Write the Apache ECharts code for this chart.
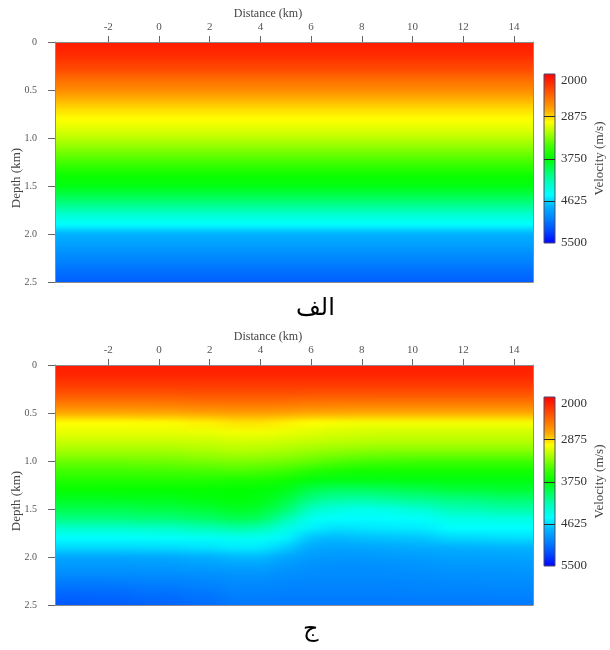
<!DOCTYPE html>
<html>
<head>
<meta charset="utf-8">
<title>Velocity models</title>
<script src="https://cdn.jsdelivr.net/npm/echarts@6/dist/echarts.min.js"></script>
<style>
  html, body { margin: 0; background: #fff; }
  #wrap { position: relative; width: 610px; height: 650px; }
  .field { position: absolute; overflow: hidden; }
  .smooth { position: absolute; filter: url(#hblur); }
  #chart { position: absolute; left: 0; top: 0; width: 610px; height: 650px; }
</style>
</head>
<body>
<div id="wrap">
  <div class="field" id="field0"><div class="smooth" id="fieldChart0"></div></div>
  <div class="field" id="field1"><div class="smooth" id="fieldChart1"></div></div>
  <div id="chart"></div>
</div>
<!-- sideways smoothing of the gridded model, like the plotting package's interpolation -->
<svg width="0" height="0" style="position:absolute">
  <filter id="hblur" x="-10%" y="-10%" width="120%" height="120%" color-interpolation-filters="sRGB">
    <feGaussianBlur stdDeviation="10 1.5"/>
  </filter>
</svg>
<script>
// ---- data ----
const xTicks = [-2, 0, 2, 4, 6, 8, 10, 12, 14];
const velTicks = [2000, 2875, 3750, 4625, 5500];
const captions = ['الف', 'ج'];

// depth samples (km) shared by every velocity profile
const depths = [0, 0.1, 0.2, 0.3, 0.4, 0.5, 0.6, 0.7, 0.8, 0.9, 1.0, 1.1, 1.2,
  1.3, 1.4, 1.5, 1.6, 1.7, 1.8, 1.9, 2.0, 2.1, 2.2, 2.3, 2.4, 2.5];

// panel "الف": laterally uniform model, one profile (m/s)
const velA = [2130, 2160, 2250, 2350, 2500, 2620, 2780, 2900, 3000, 3080, 3180,
  3300, 3430, 3570, 3720, 3790, 3950, 4120, 4320, 4500, 4750, 4830, 4920, 5000, 5080, 5150];

// panel "ج": one profile per column, columns centred at colX (km)
const colX = [-4, -2, 0, 2, 3, 4, 5, 6, 7, 8, 9, 10, 12, 14];
const velB = [
  [2130, 2160, 2250, 2370, 2540, 2750, 3000, 3060, 3150, 3250, 3380, 3500, 3620, 3730, 3830, 3950, 4080, 4300, 4500, 4620, 4800, 4880, 4960, 5050, 5130, 5180],
  [2130, 2160, 2250, 2370, 2540, 2750, 3000, 3060, 3150, 3250, 3380, 3500, 3620, 3730, 3830, 3950, 4080, 4300, 4500, 4620, 4800, 4880, 4960, 5040, 5110, 5160],
  [2130, 2160, 2250, 2370, 2540, 2740, 2990, 3060, 3150, 3250, 3370, 3490, 3620, 3740, 3820, 3930, 4060, 4280, 4490, 4610, 4790, 4870, 4950, 5020, 5080, 5130],
  [2130, 2160, 2250, 2360, 2520, 2720, 2960, 3050, 3140, 3230, 3350, 3480, 3630, 3740, 3790, 3890, 4020, 4230, 4470, 4590, 4760, 4850, 4930, 4990, 5050, 5090],
  [2130, 2160, 2250, 2360, 2510, 2700, 2920, 3030, 3120, 3200, 3330, 3460, 3650, 3750, 3760, 3830, 3950, 4180, 4450, 4560, 4720, 4830, 4910, 4960, 5000, 5040],
  [2130, 2160, 2250, 2360, 2510, 2700, 2920, 3030, 3120, 3210, 3340, 3480, 3660, 3760, 3790, 3870, 3990, 4210, 4460, 4560, 4720, 4830, 4910, 4960, 5000, 5040],
  [2130, 2160, 2250, 2360, 2520, 2720, 2960, 3050, 3140, 3240, 3360, 3510, 3690, 3800, 3900, 4020, 4200, 4400, 4520, 4660, 4800, 4880, 4930, 4970, 5010, 5040],
  [2130, 2160, 2250, 2370, 2540, 2740, 3000, 3080, 3160, 3270, 3400, 3600, 3780, 3950, 4100, 4270, 4450, 4540, 4700, 4790, 4860, 4910, 4950, 4980, 5010, 5040],
  [2130, 2160, 2250, 2370, 2540, 2750, 3010, 3100, 3180, 3300, 3450, 3650, 3800, 4000, 4170, 4380, 4500, 4600, 4720, 4810, 4880, 4920, 4950, 4980, 5010, 5040],
  [2130, 2160, 2250, 2370, 2550, 2750, 3020, 3110, 3190, 3320, 3480, 3680, 3800, 4000, 4180, 4420, 4510, 4580, 4700, 4800, 4880, 4920, 4950, 4980, 5010, 5040],
  [2130, 2160, 2250, 2370, 2550, 2750, 3020, 3120, 3200, 3330, 3490, 3680, 3800, 3980, 4160, 4400, 4500, 4570, 4690, 4790, 4870, 4910, 4950, 4980, 5010, 5040],
  [2130, 2160, 2250, 2370, 2550, 2750, 3020, 3120, 3200, 3330, 3500, 3680, 3790, 3950, 4120, 4330, 4490, 4560, 4680, 4770, 4850, 4900, 4940, 4970, 5000, 5040],
  [2130, 2160, 2250, 2370, 2550, 2750, 3020, 3120, 3200, 3330, 3500, 3680, 3790, 3900, 4080, 4220, 4400, 4500, 4620, 4750, 4830, 4880, 4920, 4960, 5000, 5040],
  [2130, 2160, 2250, 2370, 2550, 2750, 3020, 3120, 3200, 3330, 3500, 3680, 3790, 3880, 4040, 4180, 4380, 4500, 4600, 4740, 4820, 4870, 4910, 4950, 4990, 5030]
];

// ---- layout & style ----
const V_MIN = 2000, V_MAX = 5500;
const X_MIN = -4.1, X_MAX = 14.75, Z_MAX = 2.5;
const CMAP = ['#ff0000', '#ff3800', '#ff7000', '#ffa800', '#ffff00', '#a0ff00', '#40ff00',
  '#00ff00', '#00ff60', '#00ffc0', '#00ffff', '#00b0ff', '#0080ff', '#0048ff', '#0000ff'];
const SERIF = 'Liberation Serif';
const AXIS_GREY = '#8c8c8c';
const PLOT_LEFT = 55, PLOT_W = 478, PLOT_H = 240;
const PANEL_TOP = [42, 365];
const PAD_X = 40, PAD_Y = 4;   // field drawn a bit past the frame, then clipped

function velColor(v) {
  return echarts.color.lerp((v - V_MIN) / (V_MAX - V_MIN), CMAP);
}

// column extents: half way to the neighbouring column
function columnItems(xs, lo, hi) {
  if (!xs) return [[lo, hi, 0]];
  return xs.map((x, i) => [
    i === 0 ? lo : (xs[i - 1] + x) / 2,
    i === xs.length - 1 ? hi : (x + xs[i + 1]) / 2,
    i
  ]);
}

function fieldRenderer(profiles, zLo, zHi) {
  return function (params, api) {
    const p0 = api.coord([api.value(0), zLo]);
    const p1 = api.coord([api.value(1), zHi]);
    const h = p1[1] - p0[1];
    const stops = profiles[api.value(2)].map((v, i) => ({
      offset: (api.coord([0, depths[i]])[1] - p0[1]) / h,
      color: velColor(v)
    }));
    const x = Math.floor(p0[0]);
    return {
      type: 'rect',
      shape: { x: x, y: p0[1], width: Math.ceil(p1[0]) - x + 1, height: h },
      style: { fill: new echarts.graphic.LinearGradient(0, 0, 0, 1, stops) }
    };
  };
}

function colorbarRenderer(params, api) {
  const a = api.coord([0, V_MIN]);
  const b = api.coord([1, V_MAX]);
  const stops = CMAP.map((c, i) => ({ offset: i / (CMAP.length - 1), color: c }));
  const children = [{
    type: 'rect',
    shape: { x: a[0], y: a[1], width: b[0] - a[0], height: b[1] - a[1] },
    style: { fill: new echarts.graphic.LinearGradient(0, 0, 0, 1, stops), stroke: '#4a4a70', lineWidth: 1 }
  }];
  velTicks.slice(1, -1).forEach(v => {
    const y = Math.round(api.coord([0, v])[1]) + 0.5;
    children.push({
      type: 'line',
      shape: { x1: a[0], y1: y, x2: b[0], y2: y },
      style: { stroke: '#2a2a2a', lineWidth: 1 }
    });
  });
  return { type: 'group', children: children };
}

// ---- velocity fields (one small chart per panel, under the axes) ----
const panels = [{ profiles: [velA], cols: null }, { profiles: velB, cols: colX }];
const kmX = PLOT_W / (X_MAX - X_MIN), kmZ = PLOT_H / Z_MAX;
const fxLo = X_MIN - PAD_X / kmX, fxHi = X_MAX + PAD_X / kmX;
const fzLo = -PAD_Y / kmZ, fzHi = Z_MAX + PAD_Y / kmZ;

panels.forEach((p, k) => {
  const box = document.getElementById('field' + k);
  Object.assign(box.style, { left: PLOT_LEFT + 'px', top: PANEL_TOP[k] + 'px', width: PLOT_W + 'px', height: PLOT_H + 'px' });
  const inner = document.getElementById('fieldChart' + k);
  Object.assign(inner.style, {
    left: -PAD_X + 'px', top: -PAD_Y + 'px',
    width: (PLOT_W + 2 * PAD_X) + 'px', height: (PLOT_H + 2 * PAD_Y) + 'px'
  });
  echarts.init(inner).setOption({
    animation: false,
    grid: { left: 0, right: 0, top: 0, bottom: 0, outerBoundsMode: 'none' },
    xAxis: { type: 'value', min: fxLo, max: fxHi, show: false },
    yAxis: { type: 'value', min: fzLo, max: fzHi, inverse: true, show: false },
    series: [{
      type: 'custom', silent: true, clip: true,
      renderItem: fieldRenderer(p.profiles, fzLo, fzHi),
      data: columnItems(p.cols, fxLo, fxHi)
    }]
  });
});

// ---- axes, colour bars, captions ----
const grid = [], xAxis = [], yAxis = [], series = [], graphic = [];

panels.forEach((p, k) => {
  const top = PANEL_TOP[k];
  const g = grid.length;
  grid.push({ left: PLOT_LEFT, top: top, width: PLOT_W, height: PLOT_H, outerBoundsMode: 'none' });
  grid.push({ left: 544, top: top + 32, width: 11, height: 169, outerBoundsMode: 'none' });

  xAxis.push({
    gridIndex: g, type: 'value', position: 'top', min: X_MIN, max: X_MAX,
    axisLine: { show: true, onZero: false, lineStyle: { color: AXIS_GREY } },
    axisTick: { show: true, length: 6, customValues: xTicks, lineStyle: { color: '#666' } },
    axisLabel: { customValues: xTicks, margin: 9, fontFamily: SERIF, fontSize: 11, color: '#555' },
    splitLine: { show: false },
    name: 'Distance (km)', nameLocation: 'middle', nameGap: 22, nameMoveOverlap: false,
    nameTextStyle: { fontFamily: SERIF, fontSize: 12, color: '#444', padding: [0, 52, 0, 0] }
  });
  xAxis.push({
    gridIndex: g, type: 'value', position: 'bottom', min: X_MIN, max: X_MAX,
    axisLine: { show: true, onZero: false, lineStyle: { color: AXIS_GREY } },
    axisTick: { show: false }, axisLabel: { show: false }, splitLine: { show: false }
  });
  xAxis.push({ gridIndex: g + 1, type: 'value', min: 0, max: 1, show: false });

  const yi = yAxis.length, xi = xAxis.length - 1;
  yAxis.push({
    gridIndex: g, type: 'value', min: 0, max: Z_MAX, interval: 0.5, inverse: true,
    axisLine: { show: true, onZero: false, lineStyle: { color: AXIS_GREY } },
    axisTick: { show: true, length: 7, lineStyle: { color: '#666' } },
    axisLabel: {
      margin: 18, fontFamily: SERIF, fontSize: 10, color: '#555',
      formatter: v => (v === 0 ? '0' : v.toFixed(1))
    },
    splitLine: { show: false },
    name: 'Depth (km)', nameLocation: 'middle', nameRotate: 90, nameGap: 32, nameMoveOverlap: false,
    nameTextStyle: { fontFamily: SERIF, fontSize: 13, color: '#444', padding: [0, 32, 0, 0] }
  });
  yAxis.push({
    gridIndex: g, type: 'value', position: 'right', min: 0, max: Z_MAX, inverse: true,
    axisLine: { show: true, onZero: false, lineStyle: { color: AXIS_GREY } },
    axisTick: { show: false }, axisLabel: { show: false }, splitLine: { show: false }
  });
  yAxis.push({
    gridIndex: g + 1, type: 'value', position: 'right', min: V_MIN, max: V_MAX, inverse: true,
    axisLine: { show: false }, axisTick: { show: false, customValues: velTicks },
    splitLine: { show: false },
    axisLabel: {
      customValues: velTicks, margin: 6, fontFamily: SERIF, fontSize: 13, color: '#333',
      verticalAlignMinLabel: 'top', formatter: v => String(v)
    },
    name: 'Velocity (m/s)', nameLocation: 'middle', nameRotate: 90, nameGap: 38, nameMoveOverlap: false,
    nameTextStyle: { fontFamily: SERIF, fontSize: 13, color: '#444' }
  });

  series.push({
    type: 'custom', xAxisIndex: xi, yAxisIndex: yi + 2, silent: true,
    renderItem: colorbarRenderer,
    data: [[0]]
  });
});

graphic.push({ type: 'text', left: 296, top: 297, style: { text: captions[0], font: '24px "DejaVu Sans"', fill: '#000' } });
graphic.push({ type: 'text', left: 303, top: 618, style: { text: captions[1], font: '24px "DejaVu Sans"', fill: '#000' } });

const chart = echarts.init(document.getElementById('chart'));
chart.setOption({
  animation: false,
  backgroundColor: 'transparent',
  grid: grid,
  xAxis: xAxis,
  yAxis: yAxis,
  series: series,
  graphic: graphic
});
</script>
</body>
</html>
